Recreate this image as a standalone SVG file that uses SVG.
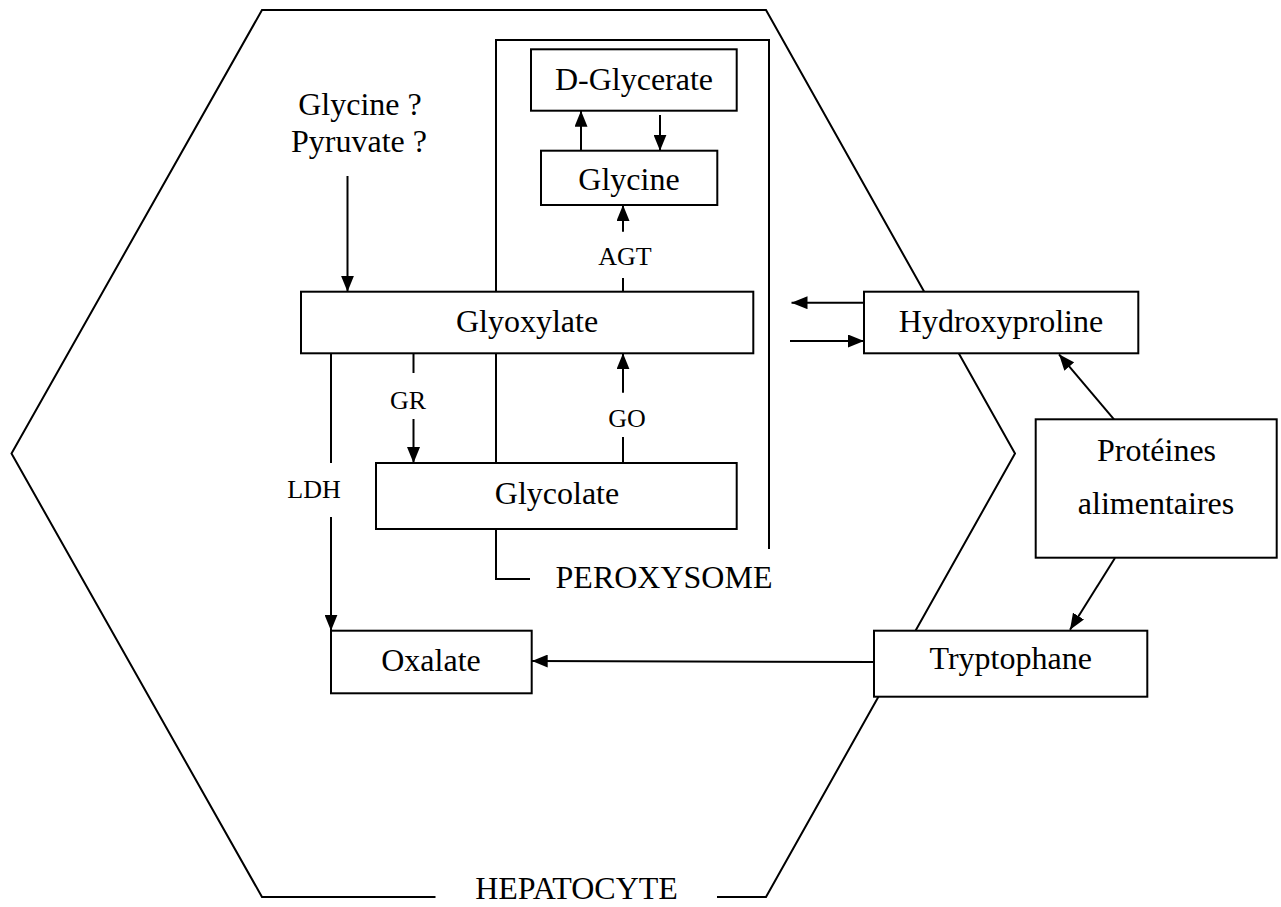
<svg xmlns="http://www.w3.org/2000/svg" width="1281" height="907" viewBox="0 0 1281 907">
<style>
.bg{fill:#fff}
.outline{fill:none;stroke:#000;stroke-width:2}
.box{fill:#fff;stroke:#000;stroke-width:2}
.ln{fill:none;stroke:#000;stroke-width:2}
.t{font-family:"Liberation Serif","Times New Roman",serif;font-size:32px;fill:#000;text-anchor:middle}
.s{font-family:"Liberation Serif","Times New Roman",serif;font-size:26px;fill:#000;text-anchor:middle}
</style>
<defs>
<marker id="ah" markerUnits="userSpaceOnUse" markerWidth="16" markerHeight="13" refX="16" refY="6.5" orient="auto">
<path d="M0,0 L16,6.5 L0,13 z" fill="#000"/>
</marker>
</defs>
<rect class="bg" x="0" y="0" width="1281" height="907"/>
<g id="hepatocyte">
<polyline class="outline" points="435.5,897 262,897 11.5,453.5 262,10 766,10 1015,453.5 766,897 717,897"/>
<text class="t" x="576.5" y="899">HEPATOCYTE</text>
</g>
<g id="peroxysome">
<polyline class="outline" points="530,579 496,579 496,40 769,40 769,549"/>
<text class="t" x="664" y="588">PEROXYSOME</text>
</g>
<g id="connectors">
<line class="ln" x1="347.5" y1="176" x2="347.5" y2="291.7" marker-end="url(#ah)"/>
<line class="ln" x1="581" y1="150.7" x2="581" y2="110.7" marker-end="url(#ah)"/>
<line class="ln" x1="660" y1="115" x2="660" y2="150.7" marker-end="url(#ah)"/>
<line class="ln" x1="623" y1="231.7" x2="623" y2="205" marker-end="url(#ah)"/>
<line class="ln" x1="623" y1="278" x2="623" y2="291.7"/>
<line class="ln" x1="331" y1="353.3" x2="331" y2="463"/>
<line class="ln" x1="331" y1="517" x2="331" y2="630.7" marker-end="url(#ah)"/>
<line class="ln" x1="413.5" y1="353.3" x2="413.5" y2="373"/>
<line class="ln" x1="413.5" y1="419" x2="413.5" y2="463" marker-end="url(#ah)"/>
<line class="ln" x1="623" y1="463" x2="623" y2="437"/>
<line class="ln" x1="623" y1="392.7" x2="623" y2="353.3" marker-end="url(#ah)"/>
<line class="ln" x1="864" y1="302.7" x2="791.5" y2="302.7" marker-end="url(#ah)"/>
<line class="ln" x1="790" y1="341" x2="864" y2="341" marker-end="url(#ah)"/>
<line class="ln" x1="1114" y1="419.3" x2="1059" y2="354.3" marker-end="url(#ah)"/>
<line class="ln" x1="1115" y1="558" x2="1070" y2="629.7" marker-end="url(#ah)"/>
<line class="ln" x1="874" y1="662" x2="531.7" y2="661" marker-end="url(#ah)"/>
</g>
<text class="s" x="625" y="265">AGT</text>
<text class="s" x="408" y="409">GR</text>
<text class="s" x="627" y="427">GO</text>
<text class="s" x="314" y="498">LDH</text>
<g id="input">
<text class="t" x="360" y="115">Glycine ?</text>
<text class="t" x="359" y="151.7">Pyruvate ?</text>
</g>
<g id="dglycerate">
<rect class="box" x="531" y="49.3" width="205.7" height="61.4"/>
<text class="t" x="634" y="90">D-Glycerate</text>
</g>
<g id="glycine">
<rect class="box" x="541" y="150.7" width="176.3" height="54.3"/>
<text class="t" x="629" y="190">Glycine</text>
</g>
<g id="glyoxylate">
<rect class="box" x="301" y="291.7" width="452.3" height="61.6"/>
<text class="t" x="527" y="331.7">Glyoxylate</text>
</g>
<g id="glycolate">
<rect class="box" x="376" y="463" width="360.7" height="66"/>
<text class="t" x="557" y="504">Glycolate</text>
</g>
<g id="oxalate">
<rect class="box" x="331" y="630.7" width="200.7" height="62.6"/>
<text class="t" x="431" y="670.7">Oxalate</text>
</g>
<g id="hydroxyproline">
<rect class="box" x="864" y="291.7" width="274.3" height="61.6"/>
<text class="t" x="1001" y="331.7">Hydroxyproline</text>
</g>
<g id="proteines">
<rect class="box" x="1035.7" y="419.3" width="241" height="138.4"/>
<text class="t" x="1156.5" y="460.7">Protéines</text>
<text class="t" x="1156" y="514">alimentaires</text>
</g>
<g id="tryptophane">
<rect class="box" x="874" y="630.7" width="273.3" height="66"/>
<text class="t" x="1010.7" y="669.3">Tryptophane</text>
</g>
</svg>
